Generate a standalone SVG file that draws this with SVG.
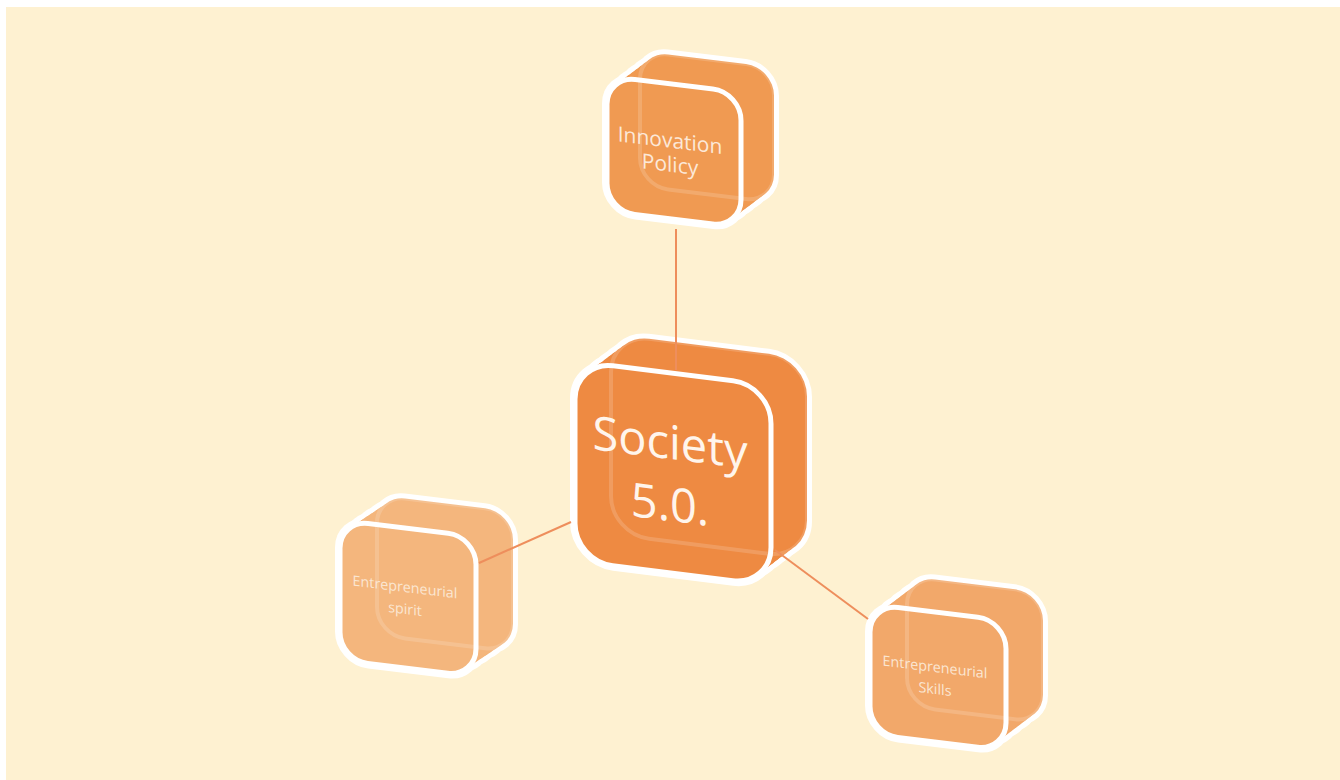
<svg xmlns="http://www.w3.org/2000/svg" xmlns:xlink="http://www.w3.org/1999/xlink" width="1340" height="780" viewBox="0 0 1340 780">
<style>
.o{fill:#ffffff;stroke:#ffffff;stroke-width:10}
.fr{stroke:#ffffff;stroke-width:5}
.gh{fill:none;stroke:#ffffff;stroke-opacity:0.16;stroke-width:4}
.lbl{font-family:"Open Sans","Liberation Sans",sans-serif;text-anchor:middle}
.conn{stroke:#EE8E5C;stroke-width:2;fill:none}
</style>
<defs>
<rect id="fs" x="0" y="0" width="196" height="200" rx="38" ry="38"/>
<rect id="fi" x="0" y="0" width="134" height="135" rx="28" ry="28"/>
<rect id="fe" x="0" y="0" width="136" height="140" rx="28" ry="28"/>
<rect id="fk" x="0" y="0" width="136" height="130" rx="28" ry="28"/>
</defs>
<rect x="0" y="0" width="1340" height="780" fill="#ffffff"/>
<rect x="6" y="7" width="1334" height="773" fill="#FEF1D1"/>

<g id="node-innovation" transform="translate(607,76) skewY(7)">
<g>
<use xlink:href="#fi" class="o"/>
<use xlink:href="#fi" class="o" transform="translate(8.25,-7.25)"/>
<use xlink:href="#fi" class="o" transform="translate(16.5,-14.5)"/>
<use xlink:href="#fi" class="o" transform="translate(24.75,-21.75)"/>
<use xlink:href="#fi" class="o" transform="translate(33,-29)"/>
</g>
<g fill="#F09A52">
<use xlink:href="#fi"/>
<use xlink:href="#fi" transform="translate(4.1,-3.6)"/>
<use xlink:href="#fi" transform="translate(8.25,-7.25)"/>
<use xlink:href="#fi" transform="translate(12.4,-10.9)"/>
<use xlink:href="#fi" transform="translate(16.5,-14.5)"/>
<use xlink:href="#fi" transform="translate(20.6,-18.1)"/>
<use xlink:href="#fi" transform="translate(24.75,-21.75)"/>
<use xlink:href="#fi" transform="translate(28.9,-25.4)"/>
<use xlink:href="#fi" transform="translate(33,-29)"/>
</g>
<use xlink:href="#fi" fill="#F09A52"/>
<use xlink:href="#fi" class="gh" transform="translate(33,-29)"/>
<use xlink:href="#fi" class="fr" fill="none"/>
<text class="lbl" x="63" y="64" font-size="21" fill="#FCE8D8">Innovation</text>
<text class="lbl" x="63" y="88" font-size="21" fill="#FCE8D8">Policy</text>
</g>

<g id="node-society" transform="translate(575,361) skewY(7.13)">
<g>
<use xlink:href="#fs" class="o"/>
<use xlink:href="#fs" class="o" transform="translate(9,-7.9)"/>
<use xlink:href="#fs" class="o" transform="translate(18,-15.75)"/>
<use xlink:href="#fs" class="o" transform="translate(27,-23.6)"/>
<use xlink:href="#fs" class="o" transform="translate(36,-31.5)"/>
</g>
<g fill="#EE8A42">
<use xlink:href="#fs"/>
<use xlink:href="#fs" transform="translate(4.5,-3.9)"/>
<use xlink:href="#fs" transform="translate(9,-7.9)"/>
<use xlink:href="#fs" transform="translate(13.5,-11.8)"/>
<use xlink:href="#fs" transform="translate(18,-15.75)"/>
<use xlink:href="#fs" transform="translate(22.5,-19.7)"/>
<use xlink:href="#fs" transform="translate(27,-23.6)"/>
<use xlink:href="#fs" transform="translate(31.5,-27.6)"/>
<use xlink:href="#fs" transform="translate(36,-31.5)"/>
</g>
<use xlink:href="#fs" fill="#EE8A42"/>
<use xlink:href="#fs" class="gh" transform="translate(36,-31.5)"/>
<use xlink:href="#fs" class="fr" fill="none"/>
<text class="lbl" x="95" y="86" font-size="47" fill="#FFF5EC">Society</text>
<text class="lbl" x="95" y="148" font-size="47" fill="#FFF5EC">5.0.</text>
</g>

<g id="node-spirit" transform="translate(340,520) skewY(7)">
<g>
<use xlink:href="#fe" class="o"/>
<use xlink:href="#fe" class="o" transform="translate(9.25,-7.4)"/>
<use xlink:href="#fe" class="o" transform="translate(18.5,-14.75)"/>
<use xlink:href="#fe" class="o" transform="translate(27.75,-22.1)"/>
<use xlink:href="#fe" class="o" transform="translate(37,-29.5)"/>
</g>
<g fill="#F4B67D">
<use xlink:href="#fe"/>
<use xlink:href="#fe" transform="translate(4.6,-3.7)"/>
<use xlink:href="#fe" transform="translate(9.25,-7.4)"/>
<use xlink:href="#fe" transform="translate(13.9,-11.1)"/>
<use xlink:href="#fe" transform="translate(18.5,-14.75)"/>
<use xlink:href="#fe" transform="translate(23.1,-18.4)"/>
<use xlink:href="#fe" transform="translate(27.75,-22.1)"/>
<use xlink:href="#fe" transform="translate(32.4,-25.8)"/>
<use xlink:href="#fe" transform="translate(37,-29.5)"/>
</g>
<use xlink:href="#fe" fill="#F4B67D"/>
<use xlink:href="#fe" class="gh" transform="translate(37,-29.5)"/>
<use xlink:href="#fe" class="fr" fill="none"/>
<text class="lbl" x="65" y="64" font-size="14.3" fill="#FBE6D2">Entrepreneurial</text>
<text class="lbl" x="65" y="86" font-size="14.3" fill="#FBE6D2">spirit</text>
</g>

<g id="node-skills" transform="translate(870,604) skewY(7)">
<g>
<use xlink:href="#fk" class="o"/>
<use xlink:href="#fk" class="o" transform="translate(9.25,-8.1)"/>
<use xlink:href="#fk" class="o" transform="translate(18.5,-16.25)"/>
<use xlink:href="#fk" class="o" transform="translate(27.75,-24.4)"/>
<use xlink:href="#fk" class="o" transform="translate(37,-32.5)"/>
</g>
<g fill="#F2A86A">
<use xlink:href="#fk"/>
<use xlink:href="#fk" transform="translate(4.6,-4.1)"/>
<use xlink:href="#fk" transform="translate(9.25,-8.1)"/>
<use xlink:href="#fk" transform="translate(13.9,-12.2)"/>
<use xlink:href="#fk" transform="translate(18.5,-16.25)"/>
<use xlink:href="#fk" transform="translate(23.1,-20.3)"/>
<use xlink:href="#fk" transform="translate(27.75,-24.4)"/>
<use xlink:href="#fk" transform="translate(32.4,-28.4)"/>
<use xlink:href="#fk" transform="translate(37,-32.5)"/>
</g>
<use xlink:href="#fk" fill="#F2A86A"/>
<use xlink:href="#fk" class="gh" transform="translate(37,-32.5)"/>
<use xlink:href="#fk" class="fr" fill="none"/>
<text class="lbl" x="65" y="60" font-size="14.3" fill="#FBE6D2">Entrepreneurial</text>
<text class="lbl" x="65" y="82" font-size="14.3" fill="#FBE6D2">Skills</text>
</g>

<g id="connectors">
<line class="conn" x1="676" y1="229" x2="676" y2="370"/>
<line class="conn" x1="571" y1="522" x2="479" y2="563"/>
<line class="conn" x1="775" y1="550" x2="868" y2="619"/>
</g>
</svg>
